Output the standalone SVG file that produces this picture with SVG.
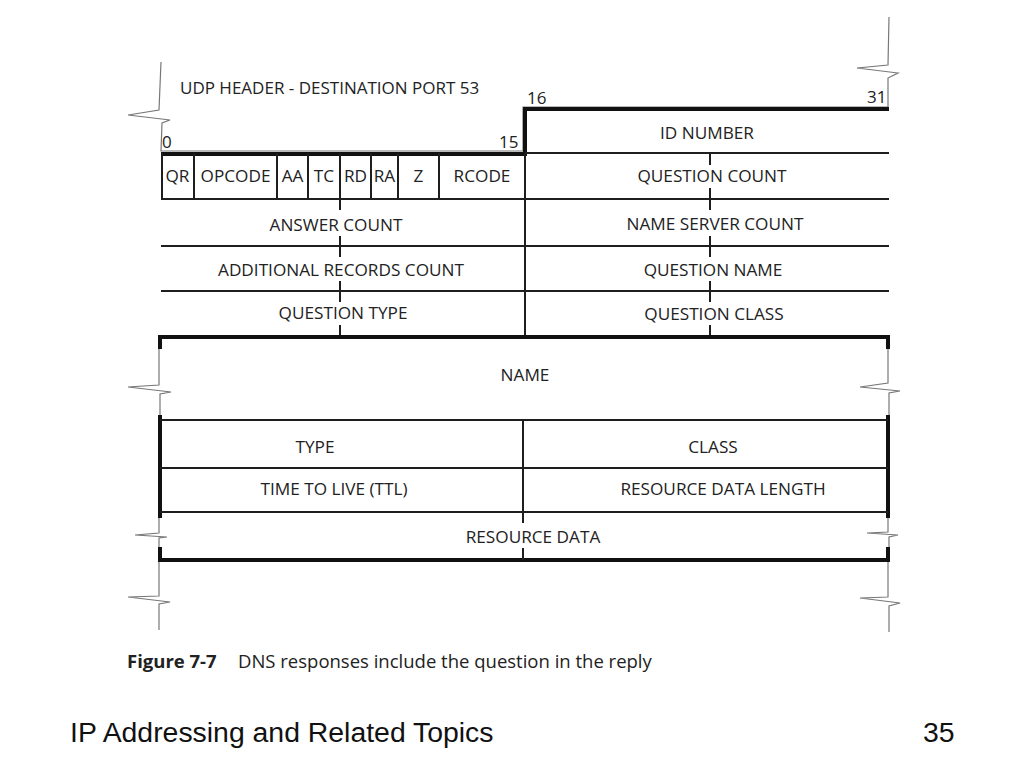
<svg xmlns="http://www.w3.org/2000/svg" width="1024" height="768" viewBox="0 0 1024 768">
<style>
.t{font-family:"Open Sans","Noto Sans","Liberation Sans",sans-serif;font-size:17.2px;fill:#222;text-anchor:middle}
.n{font-family:"Open Sans","Noto Sans","Liberation Sans",sans-serif;font-size:17px;fill:#222}
.ln{stroke:#1e1e1e;stroke-width:2;fill:none}
.thk{stroke:#111;stroke-width:4;fill:none}
.gr{stroke:#777;stroke-width:1.2;fill:none}
.tick{stroke:#1e1e1e;stroke-width:2}
.cap{font-family:"Open Sans","Noto Sans","Liberation Sans",sans-serif;font-size:18.5px;fill:#222}
.foot{font-family:"Liberation Sans",Arial,sans-serif;font-size:28.4px;fill:#111}
</style>
<rect width="1024" height="768" fill="#fff"/>

<g id="lines">
  <path class="gr" d="M161,62 L159,110 L128,115 L170,120 L162,123 L161,151 L523,151 L523,107 L888,107"/>
  <path class="gr" d="M889,17 L888,65 L857,68 L898,73 L888,78 L888,107"/>
  <path class="gr" d="M159,348 L159,385 L128,387 L171,392 L160,394 L160,415"/>
  <path class="gr" d="M159,517 L159,533 L135,535 L167,537 L159,538 L159,548"/>
  <path class="gr" d="M159,560 L159,596 L128,597 L170,602 L159,604 L159,630"/>
  <path class="gr" d="M888,348 L888,383 L860,387 L900,391 L889,393 L889,415"/>
  <path class="gr" d="M888,517 L888,532 L867,533 L898,535 L889,537 L889,548"/>
  <path class="gr" d="M888,560 L888,597 L860,598 L900,603 L889,606 L889,632"/>

  <path class="thk" d="M161,154 L525,154 L525,109 L889,109" stroke-width="3.5"/>
  <line class="ln" x1="525" y1="153" x2="889" y2="153"/>
  <line class="ln" x1="161" y1="199" x2="889" y2="199"/>
  <line class="ln" x1="161" y1="246" x2="889" y2="246"/>
  <line class="ln" x1="161" y1="291" x2="889" y2="291"/>
  <line class="ln" x1="525" y1="153" x2="525" y2="337"/>
  <line class="ln" x1="162" y1="153" x2="162" y2="199"/>
  <line class="ln" x1="194" y1="153" x2="194" y2="199"/>
  <line class="ln" x1="277" y1="153" x2="277" y2="199"/>
  <line class="ln" x1="308" y1="153" x2="308" y2="199"/>
  <line class="ln" x1="340" y1="153" x2="340" y2="199"/>
  <line class="ln" x1="371" y1="153" x2="371" y2="199"/>
  <line class="ln" x1="398" y1="153" x2="398" y2="199"/>
  <line class="ln" x1="439" y1="153" x2="439" y2="199"/>
  <line class="tick" x1="340" y1="199" x2="340" y2="210"/>
  <line class="tick" x1="340" y1="236" x2="340" y2="257"/>
  <line class="tick" x1="340" y1="281" x2="340" y2="302"/>
  <line class="tick" x1="340" y1="325" x2="340" y2="337"/>
  <line class="tick" x1="710" y1="153" x2="710" y2="165"/>
  <line class="tick" x1="710" y1="188" x2="710" y2="210"/>
  <line class="tick" x1="710" y1="236" x2="710" y2="257"/>
  <line class="tick" x1="710" y1="281" x2="710" y2="302"/>
  <line class="tick" x1="710" y1="325" x2="710" y2="337"/>

  <path class="thk" d="M160,349 L160,337 L888,337 L888,349"/>
  <line class="thk" x1="160" y1="415" x2="160" y2="518"/>
  <line class="thk" x1="888" y1="415" x2="888" y2="518"/>
  <path class="thk" d="M160,547 L160,560 L888,560 L888,547"/>
  <line class="ln" x1="160" y1="420" x2="888" y2="420"/>
  <line class="ln" x1="160" y1="468" x2="888" y2="468"/>
  <line class="ln" x1="160" y1="512" x2="888" y2="512"/>
  <line class="ln" x1="523" y1="420" x2="523" y2="523"/>
  <line class="tick" x1="523" y1="548" x2="523" y2="560"/>
</g>

<g id="bit-labels">
  <text class="n" x="180" y="94">UDP HEADER - DESTINATION PORT 53</text>
  <text class="n" x="527" y="104">16</text>
  <text class="n" x="867" y="103">31</text>
  <text class="n" x="162" y="148">0</text>
  <text class="n" x="499" y="148">15</text>
</g>

<g id="id-number"><text class="t" x="707" y="139">ID NUMBER</text></g>
<g id="qr"><text class="t" x="177.5" y="182">QR</text></g>
<g id="opcode"><text class="t" x="235.5" y="182">OPCODE</text></g>
<g id="aa"><text class="t" x="292.5" y="182">AA</text></g>
<g id="tc"><text class="t" x="324" y="182">TC</text></g>
<g id="rd"><text class="t" x="355.5" y="182">RD</text></g>
<g id="ra"><text class="t" x="384.5" y="182">RA</text></g>
<g id="z"><text class="t" x="418.5" y="182">Z</text></g>
<g id="rcode"><text class="t" x="482" y="182">RCODE</text></g>
<g id="question-count"><text class="t" x="712" y="182">QUESTION COUNT</text></g>
<g id="answer-count"><text class="t" x="336" y="231">ANSWER COUNT</text></g>
<g id="name-server-count"><text class="t" x="715" y="230">NAME SERVER COUNT</text></g>
<g id="additional-records-count"><text class="t" x="341" y="276">ADDITIONAL RECORDS COUNT</text></g>
<g id="question-name"><text class="t" x="713" y="276">QUESTION NAME</text></g>
<g id="question-type"><text class="t" x="343" y="319">QUESTION TYPE</text></g>
<g id="question-class"><text class="t" x="714" y="320">QUESTION CLASS</text></g>
<g id="name"><text class="t" x="525" y="381">NAME</text></g>
<g id="type"><text class="t" x="315" y="453">TYPE</text></g>
<g id="class"><text class="t" x="713" y="453">CLASS</text></g>
<g id="ttl"><text class="t" x="334" y="495">TIME TO LIVE (TTL)</text></g>
<g id="resource-data-length"><text class="t" x="723" y="495">RESOURCE DATA LENGTH</text></g>
<g id="resource-data"><text class="t" x="533" y="543">RESOURCE DATA</text></g>

<g id="caption">
  <text class="cap" x="127" y="668"><tspan font-weight="bold">Figure 7-7</tspan></text>
  <text class="cap" x="238" y="668">DNS responses include the question in the reply</text>
</g>
<g id="footer">
  <text class="foot" x="70" y="742">IP Addressing and Related Topics</text>
  <text class="foot" x="923" y="742">35</text>
</g>
</svg>
